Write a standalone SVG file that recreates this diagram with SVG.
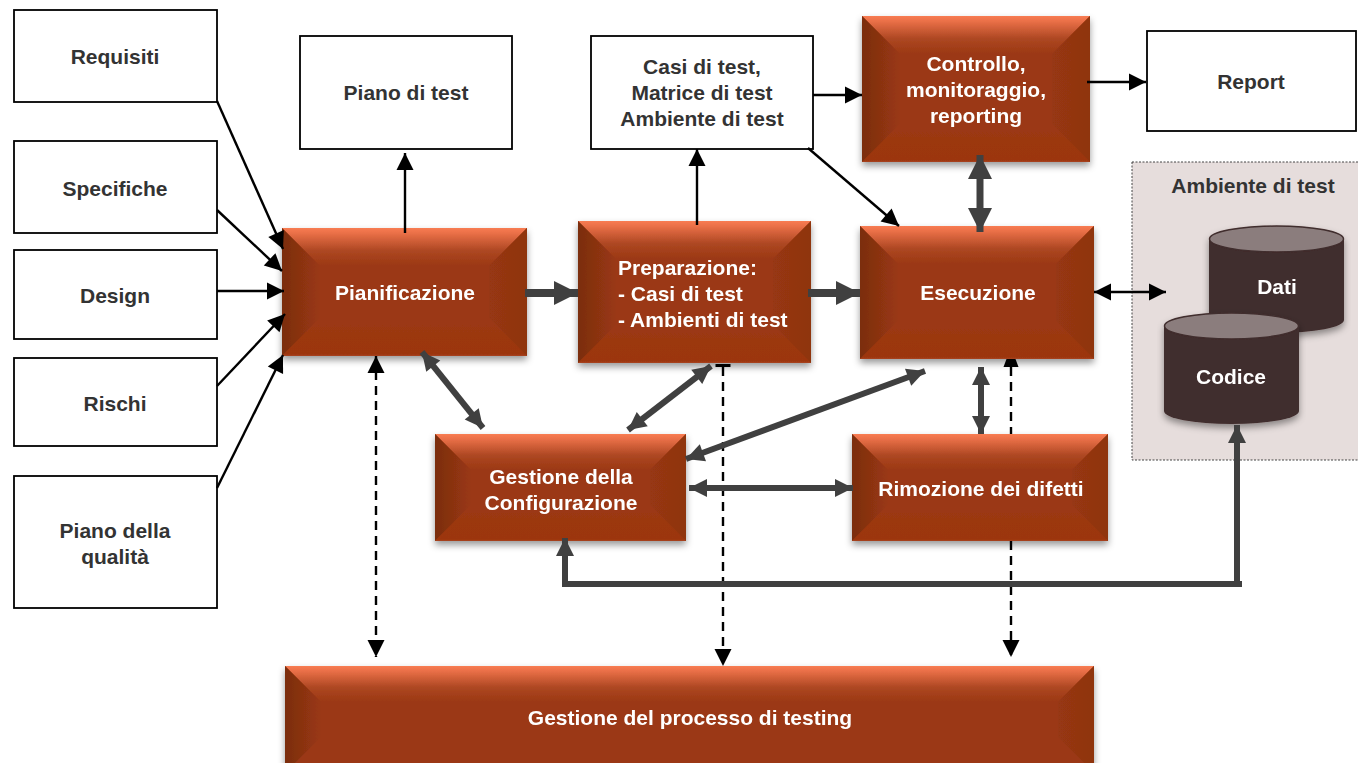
<svg xmlns="http://www.w3.org/2000/svg" width="1358" height="763" viewBox="0 0 1358 763">
<style>
text{font-family:"Liberation Sans",Arial,sans-serif;font-weight:700;font-size:21px;text-anchor:middle}
.w{fill:#fff;stroke:#000;stroke-width:1.8}
.dk{fill:#333}
.lt{fill:#fff}
.base{fill:#9b3813}
.t{fill:url(#gt)}.l{fill:url(#gl)}.r{fill:url(#gr)}.b{fill:url(#gb)}
.th{fill:none;stroke:#000;stroke-width:2.4}
.g{fill:none;stroke:#404040}
.d{fill:none;stroke:#000;stroke-width:2.4;stroke-dasharray:9 6}
.body{fill:#412d2d}
.top{fill:#8b7d7d;stroke:#412d2d;stroke-width:1.5}
</style>
<defs>
<linearGradient id="gt" x1="0" y1="0" x2="0" y2="1"><stop offset="0" stop-color="#f87c52"/><stop offset="0.12" stop-color="#ec7149"/><stop offset="0.6" stop-color="#ad4722"/><stop offset="1" stop-color="#9b3813"/></linearGradient>
<linearGradient id="gl" x1="0" y1="0" x2="1" y2="0"><stop offset="0" stop-color="#7b2d0f"/><stop offset="1" stop-color="#9a3813"/></linearGradient>
<linearGradient id="gr" x1="0" y1="0" x2="1" y2="0"><stop offset="0" stop-color="#973712"/><stop offset="1" stop-color="#8f3410"/></linearGradient>
<linearGradient id="gb" x1="0" y1="0" x2="0" y2="1"><stop offset="0" stop-color="#9b3813"/><stop offset="0.95" stop-color="#9c360e"/><stop offset="1" stop-color="#a9451f"/></linearGradient>
<filter id="sh" x="-5%" y="-5%" width="110%" height="120%"><feDropShadow dx="0" dy="4" stdDeviation="3.500" flood-color="#000" flood-opacity="0.4"/></filter>
<marker id="ak" markerUnits="userSpaceOnUse" markerWidth="20" markerHeight="20" refX="18" refY="10" orient="auto-start-reverse"><path d="M1,1.500 L18,10 L1,18.500 Z" fill="#000"/></marker>
<marker id="ag" markerUnits="userSpaceOnUse" markerWidth="28" markerHeight="28" refX="25" refY="14" orient="auto-start-reverse"><path d="M1,2 L25,14 L1,26 Z" fill="#404040"/></marker>
<marker id="ag2" markerUnits="userSpaceOnUse" markerWidth="22" markerHeight="22" refX="20" refY="11" orient="auto-start-reverse"><path d="M2,2 L20,11 L2,20 Z" fill="#404040"/></marker>
<marker id="clip1" markerUnits="userSpaceOnUse" markerWidth="18" markerHeight="18" refX="0" refY="9" orient="auto-start-reverse"><path d="M0,1.500 L3,1.500 L3,16.500 L0,16.500 Z" fill="#000"/></marker>
<marker id="clip2" markerUnits="userSpaceOnUse" markerWidth="18" markerHeight="18" refX="0" refY="9" orient="auto-start-reverse"><path d="M0,1.500 L8,4.500 L8,13.500 L0,16.500 Z" fill="#000"/></marker>
</defs>
<rect width="1358" height="763" fill="#fff"/>

<g id="n-requisiti"><rect class="w" x="14" y="10" width="203" height="92"/><text class="dk" x="115" y="64">Requisiti</text></g>
<g id="n-specifiche"><rect class="w" x="14" y="141" width="203" height="92"/><text class="dk" x="115" y="196">Specifiche</text></g>
<g id="n-design"><rect class="w" x="14" y="250" width="203" height="89"/><text class="dk" x="115" y="303">Design</text></g>
<g id="n-rischi"><rect class="w" x="14" y="358" width="203" height="88"/><text class="dk" x="115" y="411">Rischi</text></g>
<g id="n-qualita"><rect class="w" x="14" y="476" width="203" height="132"/><text class="dk" x="115" y="538">Piano della</text><text class="dk" x="115" y="564">qualità</text></g>
<g id="n-piano"><rect class="w" x="300" y="36" width="212" height="113"/><text class="dk" x="406" y="100">Piano di test</text></g>
<g id="n-casi"><rect class="w" x="591" y="36" width="222" height="113"/><text class="dk" x="702" y="74">Casi di test,</text><text class="dk" x="702" y="100">Matrice di test</text><text class="dk" x="702" y="126">Ambiente di test</text></g>
<g id="n-report"><rect class="w" x="1147" y="31" width="209" height="100"/><text class="dk" x="1251" y="89">Report</text></g>

<g id="n-ambiente">
<rect x="1132" y="162" width="228" height="298" fill="#e6dddc" stroke="#444" stroke-width="1" stroke-dasharray="2 1.500"/>
<text class="dk" x="1253" y="193">Ambiente di test</text>
</g>
<g id="n-dati" filter="url(#sh)">
<path class="body" d="M1209,239 V320 A67.500,13 0 0 0 1344,320 V239 Z"/>
<ellipse class="top" cx="1276.500" cy="239" rx="67" ry="13"/>
<text class="lt" x="1277" y="294">Dati</text>
</g>
<g id="n-codice" filter="url(#sh)">
<path class="body" d="M1164,326 V411 A67.500,13 0 0 0 1299,411 V326 Z"/>
<ellipse class="top" cx="1231.500" cy="326" rx="67" ry="13"/>
<text class="lt" x="1231" y="384">Codice</text>
</g>

<g id="n-pianificazione" filter="url(#sh)">
<rect class="base" x="282" y="228" width="245" height="128"/>
<polygon class="t" points="282,228 527,228 489,266 320,266"/>
<polygon class="l" points="282,228 320,266 320,318 282,356"/>
<polygon class="r" points="527,228 489,266 489,318 527,356"/>
<polygon class="b" points="282,356 320,318 489,318 527,356"/>
<text class="lt" x="405" y="300">Pianificazione</text>
</g>
<g id="n-preparazione" filter="url(#sh)">
<rect class="base" x="578" y="221" width="233" height="142"/>
<polygon class="t" points="578,221 811,221 773,259 616,259"/>
<polygon class="l" points="578,221 616,259 616,325 578,363"/>
<polygon class="r" points="811,221 773,259 773,325 811,363"/>
<polygon class="b" points="578,363 616,325 773,325 811,363"/>
<text class="lt" x="618" y="275" style="text-anchor:start">Preparazione:</text>
<text class="lt" x="618" y="301" style="text-anchor:start">- Casi di test</text>
<text class="lt" x="618" y="327" style="text-anchor:start">- Ambienti di test</text>
</g>
<g id="n-esecuzione" filter="url(#sh)">
<rect class="base" x="860" y="226" width="234" height="133"/>
<polygon class="t" points="860,226 1094,226 1056,264 898,264"/>
<polygon class="l" points="860,226 898,264 898,321 860,359"/>
<polygon class="r" points="1094,226 1056,264 1056,321 1094,359"/>
<polygon class="b" points="860,359 898,321 1056,321 1094,359"/>
<text class="lt" x="978" y="300">Esecuzione</text>
</g>
<g id="n-controllo" filter="url(#sh)">
<rect class="base" x="862" y="16" width="228" height="146"/>
<polygon class="t" points="862,16 1090,16 1052,54 900,54"/>
<polygon class="l" points="862,16 900,54 900,124 862,162"/>
<polygon class="r" points="1090,16 1052,54 1052,124 1090,162"/>
<polygon class="b" points="862,162 900,124 1052,124 1090,162"/>
<text class="lt" x="976" y="71">Controllo,</text>
<text class="lt" x="976" y="97">monitoraggio,</text>
<text class="lt" x="976" y="123">reporting</text>
</g>
<g id="n-configurazione" filter="url(#sh)">
<rect class="base" x="435" y="434" width="251" height="107"/>
<polygon class="t" points="435,434 686,434 650,470 471,470"/>
<polygon class="l" points="435,434 471,470 471,505 435,541"/>
<polygon class="r" points="686,434 650,470 650,505 686,541"/>
<polygon class="b" points="435,541 471,505 650,505 686,541"/>
<text class="lt" x="561" y="484">Gestione della</text>
<text class="lt" x="561" y="510">Configurazione</text>
</g>
<g id="n-rimozione" filter="url(#sh)">
<rect class="base" x="852" y="434" width="256" height="107"/>
<polygon class="t" points="852,434 1108,434 1072,470 888,470"/>
<polygon class="l" points="852,434 888,470 888,505 852,541"/>
<polygon class="r" points="1108,434 1072,470 1072,505 1108,541"/>
<polygon class="b" points="852,541 888,505 1072,505 1108,541"/>
<text class="lt" x="981" y="496">Rimozione dei difetti</text>
</g>
<g id="n-processo" filter="url(#sh)">
<rect class="base" x="285" y="666" width="809" height="107"/>
<polygon class="t" points="285,666 1094,666 1058,702 321,702"/>
<polygon class="l" points="285,666 321,702 321,737 285,773"/>
<polygon class="r" points="1094,666 1058,702 1058,737 1094,773"/>
<text class="lt" x="690" y="725">Gestione del processo di testing</text>
</g>

<g id="connectors">
<path class="d" d="M376,356 V657" marker-start="url(#ak)" marker-end="url(#ak)"/>
<path class="d" d="M723,367 V666" marker-start="url(#clip1)" marker-end="url(#ak)"/>
<path class="d" d="M1011,367 V434 M1011,541 V657" marker-start="url(#clip2)" marker-end="url(#ak)"/>
<path class="th" d="M217,101 L283,249" marker-end="url(#ak)"/>
<path class="th" d="M217,210 L282,271" marker-end="url(#ak)"/>
<path class="th" d="M217,291 L284,291" marker-end="url(#ak)"/>
<path class="th" d="M217,386 L285,314" marker-end="url(#ak)"/>
<path class="th" d="M217,488 L283,355" marker-end="url(#ak)"/>
<path class="th" d="M405,233 V153" marker-end="url(#ak)"/>
<path class="th" d="M697,225 V149" marker-end="url(#ak)"/>
<path class="th" d="M813,95 H862" marker-end="url(#ak)"/>
<path class="th" d="M1087,82 H1146" marker-end="url(#ak)"/>
<path class="th" d="M808,148 L899,226" marker-end="url(#ak)"/>
<path class="th" d="M1094,292 H1166" marker-start="url(#ak)" marker-end="url(#ak)"/>
<path class="g" stroke-width="8" d="M525,293 H578" marker-end="url(#ag)"/>
<path class="g" stroke-width="8" d="M808,293 H860" marker-end="url(#ag)"/>
<path class="g" stroke-width="7" d="M980,155 V232" marker-start="url(#ag)" marker-end="url(#ag)"/>
<path class="g" stroke-width="6" d="M422,352 L483,428" marker-start="url(#ag2)" marker-end="url(#ag2)"/>
<path class="g" stroke-width="6" d="M711,366 L628,430" marker-start="url(#ag2)" marker-end="url(#ag2)"/>
<path class="g" stroke-width="6" d="M925,371 L686,459" marker-start="url(#ag2)" marker-end="url(#ag2)"/>
<path class="g" stroke-width="6" d="M981,367 V434" marker-start="url(#ag2)" marker-end="url(#ag2)"/>
<path class="g" stroke-width="6" d="M689,488 H853" marker-start="url(#ag2)" marker-end="url(#ag2)"/>
<path class="g" stroke-width="6" d="M565,538 V584 H1242 M1237,584 V425" marker-start="url(#ag2)" marker-end="url(#ag2)"/>
</g>
</svg>
